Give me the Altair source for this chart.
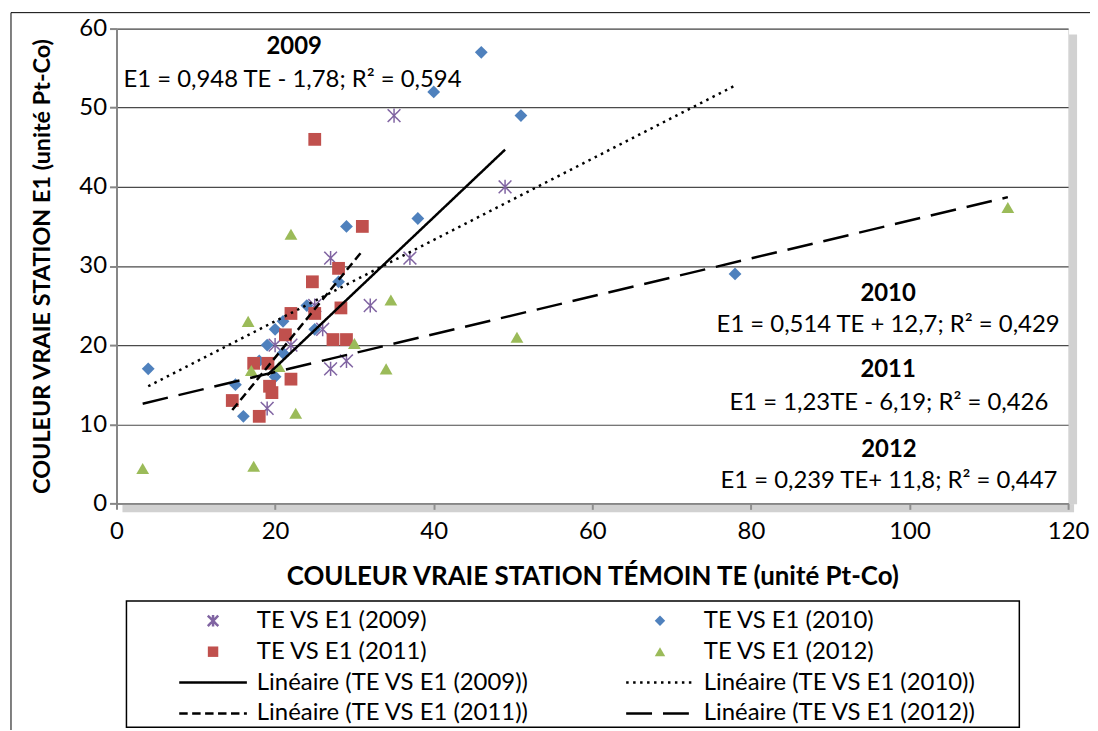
import altair as alt
import pandas as pd

SERIES = [
    "TE VS E1 (2009)", "TE VS E1 (2010)", "TE VS E1 (2011)", "TE VS E1 (2012)",
    "Linéaire (TE VS E1 (2009))", "Linéaire (TE VS E1 (2010))",
    "Linéaire (TE VS E1 (2011))", "Linéaire (TE VS E1 (2012))",
]

# ---- data ----
te_2009 = [27, 25, 32, 26, 20, 22, 27, 29, 19, 35, 49, 37]
e1_2009 = [31, 25, 25, 22, 20, 20, 17, 18, 12, 49, 40, 31]

te_2010 = [29, 28, 24, 21, 20, 25, 19, 21, 18, 20, 4, 15, 16, 46, 40, 51, 38, 78]
e1_2010 = [35, 28, 25, 23, 22, 22, 20, 19, 18, 16, 17, 15, 11, 57, 52, 49, 36, 29]

te_2011 = [31, 28, 24.7, 22, 25, 28.3, 21.3, 27.3, 29, 17.3, 19.1, 22, 19.3, 19.6, 14.6, 18, 25]
e1_2011 = [35, 29.7, 28, 24, 24, 24.7, 21.3, 20.7, 20.7, 17.7, 17.7, 15.7, 14.8, 14, 13, 11, 46]

te_2012 = [22, 34.6, 16.6, 30, 17, 20.5, 34, 22.6, 3.3, 17.3, 50.5, 112.4]
e1_2012 = [34, 25.7, 23, 20.2, 16.8, 17.3, 17, 11.4, 4.4, 4.7, 21, 37.4]

# trend line end points (as drawn)
trend_te_2009 = [19, 49]
trend_e1_2009 = [16.2, 44.7]
trend_te_2010 = [4, 78]
trend_e1_2010 = [14.8, 52.8]
trend_te_2011 = [14.6, 31]
trend_e1_2011 = [11.8, 31.9]
trend_te_2012 = [3.3, 112.4]
trend_e1_2012 = [12.6, 38.7]

year_labels = ["2009", "2010", "2011", "2012"]
year_te = [22.4, 97.3, 97.3, 97.4]
year_e1 = [57.7, 26.5, 16.9, 6.8]

eq_labels = [
    "E1 = 0,948 TE - 1,78; R² = 0,594",
    "E1 = 0,514 TE + 12,7; R² = 0,429",
    "E1 = 1,23TE - 6,19; R² = 0,426",
    "E1 = 0,239 TE+ 11,8; R² = 0,447",
]
eq_te = [22.2, 97.3, 97.4, 97.4]
eq_e1 = [53.5, 22.5, 12.7, 2.8]

x_ticks = [0, 20, 40, 60, 80, 100, 120]
y_ticks = [0, 10, 20, 30, 40, 50, 60]

# ---- tables ----
pts = pd.concat([
    pd.DataFrame({"te": te_2009, "e1": e1_2009, "series": SERIES[0]}),
    pd.DataFrame({"te": te_2010, "e1": e1_2010, "series": SERIES[1]}),
    pd.DataFrame({"te": te_2011, "e1": e1_2011, "series": SERIES[2]}),
    pd.DataFrame({"te": te_2012, "e1": e1_2012, "series": SERIES[3]}),
], ignore_index=True)

trends = pd.concat([
    pd.DataFrame({"te": trend_te_2009, "e1": trend_e1_2009, "series": SERIES[4]}),
    pd.DataFrame({"te": trend_te_2010, "e1": trend_e1_2010, "series": SERIES[5]}),
    pd.DataFrame({"te": trend_te_2011, "e1": trend_e1_2011, "series": SERIES[6]}),
    pd.DataFrame({"te": trend_te_2012, "e1": trend_e1_2012, "series": SERIES[7]}),
], ignore_index=True)

years_df = pd.DataFrame({"te": year_te, "e1": year_e1, "label": year_labels})
eqs_df = pd.DataFrame({"te": eq_te, "e1": eq_e1, "label": eq_labels})

# ---- styles ----
FONT = "Lato"
FILLS = ["#8064A2", "#4F81BD", "#C0504D", "#9BBB59", "black", "black", "black", "black"]
STROKES = ["#8064A2", "transparent", "transparent", "transparent", "black", "black", "black", "black"]
ASTER = "M-1,-1L1,1M-1,1L1,-1M0,-1.1L0,1.1"
LEGLINE = "M-6.48,0L6.48,0"
SHAPES = [ASTER, "diamond", "square", "triangle-up", LEGLINE, LEGLINE, LEGLINE, LEGLINE]
DASHES = [[1, 0], [1, 0], [1, 0], [1, 0], [1, 0], [2.5, 4.5], [8.5, 4.5], [26, 11]]

leg = alt.Legend(
    title=None, orient="none", legendX=10, legendY=578, direction="horizontal",
    columns=2, columnPadding=49, rowPadding=7, padding=5,
    labelFont=FONT, labelFontSize=24, labelColor="black",
    labelOffset=32, labelLimit=700, symbolOffset=70, symbolSize=110,
    symbolStrokeWidth=2.5,
)

xscale = alt.Scale(domain=[0, 120], nice=False, zero=False)
yscale = alt.Scale(domain=[0, 60], nice=False, zero=False)

x_axis = alt.Axis(
    values=x_ticks, grid=False, labelFont=FONT, labelFontSize=24, labelColor="black",
    labelFlush=False, domainColor="#868686", domainWidth=2, tickColor="#868686",
    tickWidth=2, tickSize=6, labelPadding=10,
    title="COULEUR VRAIE STATION TÉMOIN TE (unité Pt-Co)", titleFont=FONT,
    titleFontSize=26, titleFontWeight="bold", titleColor="black", titlePadding=20,
)
y_axis = alt.Axis(
    values=y_ticks, grid=True, gridColor="#4a4a4a", gridWidth=1.2,
    labelFont=FONT, labelFontSize=24, labelColor="black", labelFlush=False,
    domainColor="#868686", domainWidth=2, tickColor="#868686", tickWidth=2,
    tickSize=7, labelPadding=3,
    title="COULEUR VRAIE STATION E1 (unité Pt-Co)", titleFont=FONT,
    titleFontSize=23.5, titleFontWeight="bold", titleColor="black", titlePadding=24,
)

def enc_scale(rng):
    return alt.Scale(domain=SERIES, range=rng)

one = pd.DataFrame({"k": [0]})
shadow_bottom = alt.Chart(one).mark_rule(color="#9a9a9a", strokeWidth=8, opacity=0.45).encode(
    x=alt.value(6), x2=alt.value(962), y=alt.value(482))
shadow_right = alt.Chart(one).mark_rule(color="#9a9a9a", strokeWidth=8, opacity=0.45).encode(
    x=alt.value(961), y=alt.value(6), y2=alt.value(478))

points = alt.Chart(pts).mark_point(filled=True, strokeWidth=1.5, opacity=1, size=165).encode(
    x=alt.X("te:Q", scale=xscale, axis=x_axis),
    y=alt.Y("e1:Q", scale=yscale, axis=y_axis),
    fill=alt.Fill("series:N", scale=enc_scale(FILLS), legend=leg),
    stroke=alt.Stroke("series:N", scale=enc_scale(STROKES), legend=leg),
    shape=alt.Shape("series:N", scale=enc_scale(SHAPES), legend=leg),
    strokeDash=alt.StrokeDash("series:N", scale=enc_scale(DASHES), legend=leg),
)

lines = alt.Chart(trends).mark_line(strokeWidth=2.5).encode(
    x=alt.X("te:Q", scale=xscale),
    y=alt.Y("e1:Q", scale=yscale),
    stroke=alt.Stroke("series:N", scale=enc_scale(STROKES), legend=leg),
    strokeDash=alt.StrokeDash("series:N", scale=enc_scale(DASHES), legend=leg),
)

years_txt = alt.Chart(years_df).mark_text(
    font=FONT, fontSize=24, fontWeight="bold", color="black", align="center", baseline="middle"
).encode(x=alt.X("te:Q", scale=xscale), y=alt.Y("e1:Q", scale=yscale), text="label:N")

eqs_txt = alt.Chart(eqs_df).mark_text(
    font=FONT, fontSize=24, color="black", align="center", baseline="middle"
).encode(x=alt.X("te:Q", scale=xscale), y=alt.Y("e1:Q", scale=yscale), text="label:N")

frame_top = alt.Chart(one).mark_rule(color="#000000", strokeWidth=1).encode(
    x=alt.value(-106), x2=alt.value(1000), y=alt.value(-16))
frame_left = alt.Chart(one).mark_rule(color="#000000", strokeWidth=1).encode(
    x=alt.value(-106), y=alt.value(-16), y2=alt.value(720))
legend_box = alt.Chart(one).mark_rect(fill="transparent", stroke="black", strokeWidth=1.5).encode(
    x=alt.value(10), x2=alt.value(907), y=alt.value(575), y2=alt.value(702))

chart = alt.layer(
    points, shadow_bottom, shadow_right, lines, years_txt, eqs_txt,
    frame_top, frame_left, legend_box,
).properties(
    width=956, height=477,
    padding={"left": 109, "top": 19, "right": 22, "bottom": 226},
    autosize=alt.AutoSizeParams(type="none"),
).configure_view(stroke="black", strokeWidth=2.5).configure(font=FONT)

chart.save("out.html", embed_options={"renderer": "svg", "actions": False})
